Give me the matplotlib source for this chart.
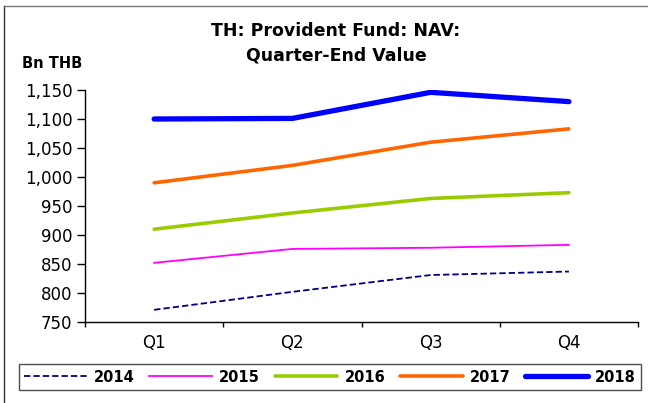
import matplotlib.pyplot as plt
from matplotlib.lines import Line2D

# values (Bn THB)
quarters = ["Q1", "Q2", "Q3", "Q4"]
years = ["2014", "2015", "2016", "2017", "2018"]
nav_2014 = [771, 802, 831, 837]
nav_2015 = [852, 876, 878, 883]
nav_2016 = [910, 938, 963, 973]
nav_2017 = [990, 1020, 1060, 1083]
nav_2018 = [1100, 1101, 1146, 1130]
yticks = [750, 800, 850, 900, 950, 1000, 1050, 1100, 1150]

W, H = 648, 403
fig = plt.figure(figsize=(W / 100, H / 100), dpi=100)
ax = fig.add_axes([85 / W, 1 - 322 / H, (638 - 85) / W, (322 - 90) / H])

x = range(len(quarters))
styles = [
    dict(color="#000080", lw=1.3, dashes=(3.5, 1.7)),
    dict(color="#FF00FF", lw=1.3),
    dict(color="#99CC00", lw=2.6, solid_capstyle="round"),
    dict(color="#FF6600", lw=2.6, solid_capstyle="round"),
    dict(color="#0000FF", lw=3.8, solid_capstyle="round"),
]
for vals, yr, st in zip([nav_2014, nav_2015, nav_2016, nav_2017, nav_2018], years, styles):
    ax.plot(x, vals, label=yr, **st)

ax.set_xlim(-0.5, len(quarters) - 0.5)
ax.set_ylim(yticks[0], yticks[-1])
ax.set_yticks(yticks)
ax.set_yticklabels([f"{v:,}" for v in yticks])
ax.set_xticks([i - 0.5 for i in range(len(quarters) + 1)])
ax.set_xticklabels([])
ax.set_xticks(list(x), minor=True)
ax.set_xticklabels(quarters, minor=True)
ax.tick_params(axis="y", length=5.5, width=1, pad=3.5, labelsize=12)
ax.tick_params(axis="x", which="major", length=3.6, width=1)
ax.tick_params(axis="x", which="minor", length=0, pad=9, labelsize=12)
for s in ["top", "right"]:
    ax.spines[s].set_visible(False)
for s in ["left", "bottom"]:
    ax.spines[s].set_linewidth(1)

fig.text(336 / W, 1 - 43 / H, "TH: Provident Fund: NAV:\nQuarter-End Value",
         ha="center", va="center", fontsize=12.5, fontweight="bold", linespacing=1.45)
fig.text(22 / W, 1 - 63 / H, "Bn THB", ha="left", va="center",
         fontsize=10.5, fontweight="bold")

leg = fig.legend(loc="center", bbox_to_anchor=(330 / W, 1 - 377 / H), ncol=5,
                 prop=dict(size=10.5, weight="bold"), handlelength=4.3,
                 handletextpad=0.5, columnspacing=1.0, borderpad=0.35,
                 fancybox=False, frameon=True)
leg.get_frame().set_edgecolor("#222222")
leg.get_frame().set_linewidth(1)

# outer chart border (top and left edges visible)
fig.add_artist(Line2D([4 / W, 4 / W], [0, 1 - 6 / H], color="#333333", lw=1))
fig.add_artist(Line2D([4 / W, 1], [1 - 6 / H, 1 - 6 / H], color="#777777", lw=1))

fig.savefig("out.png", dpi=100)
